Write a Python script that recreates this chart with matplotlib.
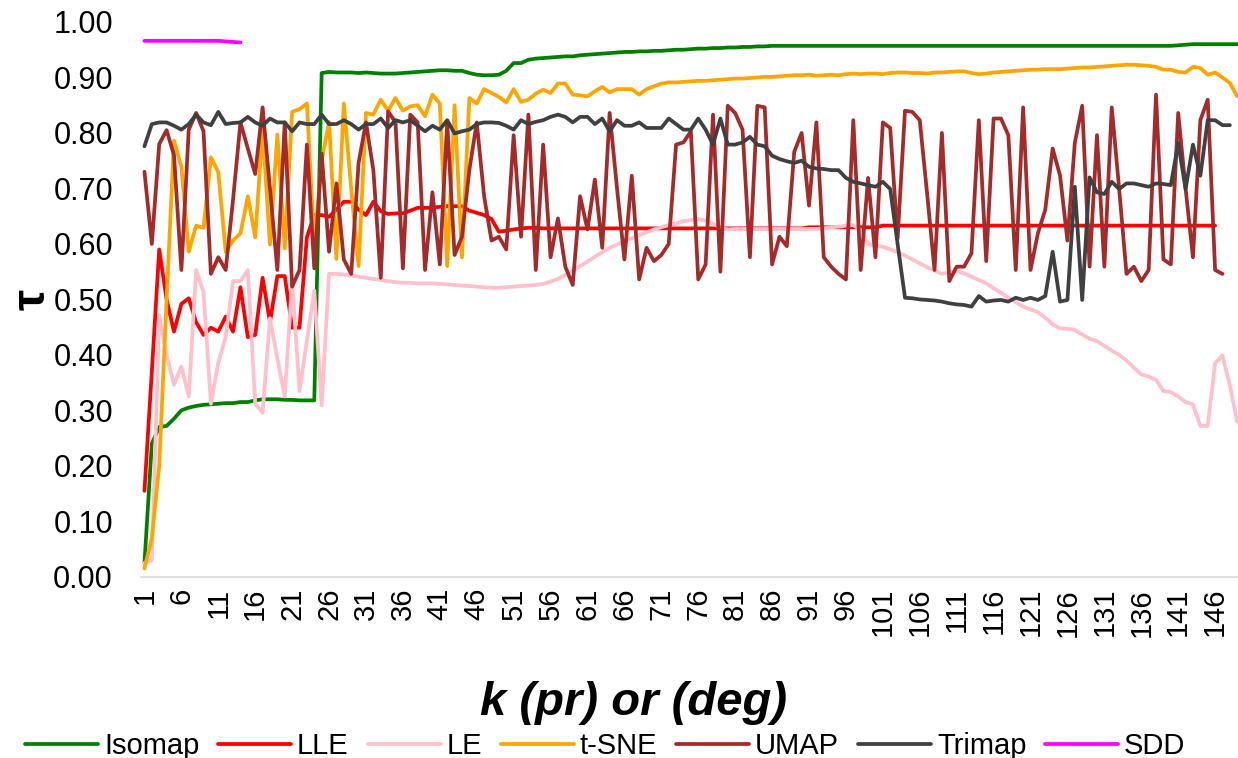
import matplotlib
matplotlib.use('Agg')
import matplotlib.pyplot as plt
import numpy as np

plt.rcParams['font.family'] = ['Liberation Sans', 'DejaVu Sans']

# tau values, one per k (category 1, 2, 3, ...)
isomap = [
    0.025, 0.24, 0.27, 0.272, 0.285, 0.30, 0.305, 0.308, 0.31, 0.311,
    0.312, 0.313, 0.313, 0.315, 0.315, 0.318, 0.32, 0.32, 0.32, 0.319,
    0.319, 0.318, 0.318, 0.318, 0.908, 0.91, 0.909, 0.909, 0.909, 0.908,
    0.909, 0.908, 0.907, 0.907, 0.907, 0.908, 0.909, 0.91, 0.911, 0.912,
    0.913, 0.913, 0.912, 0.912, 0.908, 0.905, 0.904, 0.904, 0.905, 0.912,
    0.926, 0.926, 0.932, 0.934, 0.935, 0.936, 0.937, 0.938, 0.938, 0.94,
    0.941, 0.942, 0.943, 0.944, 0.945, 0.946, 0.946, 0.947, 0.947, 0.948,
    0.948, 0.949, 0.95, 0.95, 0.951, 0.952, 0.952, 0.953, 0.953, 0.954,
    0.954, 0.955, 0.955, 0.956, 0.956, 0.957, 0.957, 0.957, 0.957, 0.957,
    0.957, 0.957, 0.957, 0.957, 0.957, 0.957, 0.957, 0.957, 0.957, 0.957,
    0.957, 0.957, 0.957, 0.957, 0.957, 0.957, 0.957, 0.957, 0.957, 0.957,
    0.957, 0.957, 0.957, 0.957, 0.957, 0.957, 0.957, 0.957, 0.957, 0.957,
    0.957, 0.957, 0.957, 0.957, 0.957, 0.957, 0.957, 0.957, 0.957, 0.957,
    0.957, 0.957, 0.957, 0.957, 0.957, 0.957, 0.957, 0.957, 0.957, 0.957,
    0.958, 0.959, 0.96, 0.96, 0.96, 0.96, 0.96, 0.96, 0.96,
]

lle = [
    0.155, 0.37, 0.59, 0.50, 0.442, 0.492, 0.502, 0.459, 0.436, 0.449,
    0.442, 0.469, 0.442, 0.522, 0.432, 0.436, 0.539, 0.459, 0.542, 0.542,
    0.449, 0.449, 0.612, 0.652, 0.652, 0.649, 0.662, 0.676, 0.676, 0.662,
    0.652, 0.676, 0.659, 0.654, 0.655, 0.655, 0.66, 0.665, 0.665, 0.665,
    0.667, 0.668, 0.668, 0.668, 0.66, 0.656, 0.652, 0.645, 0.622, 0.624,
    0.626, 0.628, 0.629, 0.629, 0.628, 0.628, 0.628, 0.628, 0.628, 0.628,
    0.628, 0.628, 0.628, 0.628, 0.628, 0.628, 0.628, 0.628, 0.628, 0.628,
    0.628, 0.628, 0.628, 0.628, 0.628, 0.628, 0.628, 0.628, 0.628, 0.628,
    0.628, 0.628, 0.628, 0.628, 0.628, 0.628, 0.628, 0.628, 0.628, 0.628,
    0.63, 0.63, 0.63, 0.63, 0.63, 0.63, 0.63, 0.63, 0.63, 0.63,
    0.633, 0.633, 0.633, 0.633, 0.633, 0.633, 0.633, 0.633, 0.633, 0.633,
    0.633, 0.633, 0.633, 0.633, 0.633, 0.633, 0.633, 0.633, 0.633, 0.633,
    0.633, 0.633, 0.633, 0.633, 0.633, 0.633, 0.633, 0.633, 0.633, 0.633,
    0.633, 0.633, 0.633, 0.633, 0.633, 0.633, 0.633, 0.633, 0.633, 0.633,
    0.633, 0.633, 0.633, 0.633, 0.633, 0.633,
]

le = [
    0.025, 0.03, 0.472, 0.40, 0.346, 0.379, 0.325, 0.553, 0.513, 0.312,
    0.386, 0.432, 0.533, 0.533, 0.553, 0.312, 0.296, 0.466, 0.393, 0.325,
    0.533, 0.335, 0.426, 0.516, 0.309, 0.546, 0.546, 0.545, 0.543, 0.541,
    0.539, 0.537, 0.535, 0.533, 0.531, 0.53, 0.53, 0.529, 0.529, 0.529,
    0.528, 0.527, 0.526, 0.525, 0.524, 0.523, 0.522, 0.521, 0.521, 0.522,
    0.523, 0.524, 0.525, 0.526, 0.528, 0.532, 0.537, 0.544, 0.552, 0.56,
    0.568, 0.577, 0.585, 0.593, 0.599, 0.605, 0.61, 0.616, 0.621, 0.626,
    0.63, 0.634, 0.637, 0.641, 0.643, 0.645, 0.642, 0.636, 0.63, 0.626,
    0.627, 0.627, 0.627, 0.627, 0.627, 0.627, 0.627, 0.627, 0.627, 0.627,
    0.627, 0.627, 0.628, 0.63, 0.631, 0.633, 0.634, 0.625, 0.60, 0.597,
    0.595, 0.59, 0.585, 0.579, 0.572, 0.565, 0.558, 0.552, 0.546, 0.549,
    0.551, 0.547, 0.541, 0.535, 0.529, 0.52, 0.512, 0.503, 0.495, 0.487,
    0.482, 0.477, 0.467, 0.455, 0.448, 0.447, 0.445, 0.437, 0.429, 0.425,
    0.416, 0.408, 0.40, 0.39, 0.377, 0.365, 0.361, 0.355, 0.335, 0.333,
    0.325, 0.315, 0.311, 0.272, 0.272, 0.385, 0.399, 0.345, 0.279,
]

tsne = [
    0.015, 0.07, 0.2, 0.5, 0.786, 0.739, 0.586, 0.633, 0.629, 0.756,
    0.729, 0.586, 0.606, 0.619, 0.686, 0.612, 0.806, 0.599, 0.797, 0.592,
    0.838, 0.843, 0.853, 0.6, 0.75, 0.82, 0.573, 0.853, 0.70, 0.56,
    0.836, 0.833, 0.86, 0.84, 0.863, 0.84, 0.848, 0.85, 0.83, 0.869,
    0.853, 0.56, 0.85, 0.576, 0.863, 0.853, 0.879, 0.872, 0.865, 0.855,
    0.879, 0.856, 0.86, 0.871, 0.878, 0.872, 0.889, 0.889, 0.869, 0.868,
    0.866, 0.875, 0.883, 0.873, 0.879, 0.879, 0.879, 0.869, 0.879, 0.884,
    0.889, 0.891, 0.891, 0.892, 0.893, 0.894, 0.894, 0.895, 0.896, 0.897,
    0.898, 0.898, 0.899, 0.9, 0.901, 0.901, 0.902, 0.903, 0.904, 0.904,
    0.905, 0.903, 0.904, 0.905, 0.904, 0.906, 0.907, 0.906, 0.907, 0.907,
    0.906, 0.908, 0.909, 0.909, 0.908, 0.908, 0.907, 0.909, 0.909, 0.91,
    0.911, 0.911, 0.908, 0.906, 0.907, 0.909, 0.91, 0.911, 0.912, 0.913,
    0.914, 0.914, 0.915, 0.915, 0.915, 0.916, 0.917, 0.918, 0.918, 0.919,
    0.92, 0.921, 0.922, 0.923, 0.923, 0.922, 0.921, 0.919, 0.914, 0.914,
    0.91, 0.909, 0.919, 0.917, 0.905, 0.909, 0.9, 0.89, 0.866,
]

umap = [
    0.73, 0.60, 0.78, 0.805, 0.76, 0.553, 0.806, 0.836, 0.803, 0.546,
    0.576, 0.553, 0.68, 0.819, 0.772, 0.726, 0.846, 0.70, 0.553, 0.819,
    0.523, 0.553, 0.779, 0.556, 0.763, 0.586, 0.709, 0.572, 0.546, 0.746,
    0.819, 0.733, 0.539, 0.839, 0.819, 0.556, 0.833, 0.819, 0.553, 0.693,
    0.563, 0.819, 0.58, 0.613, 0.733, 0.819, 0.686, 0.606, 0.613, 0.59,
    0.796, 0.613, 0.833, 0.553, 0.779, 0.576, 0.646, 0.559, 0.526, 0.686,
    0.626, 0.716, 0.593, 0.836, 0.70, 0.572, 0.723, 0.536, 0.593, 0.569,
    0.58, 0.60, 0.779, 0.783, 0.803, 0.536, 0.563, 0.833, 0.55, 0.849,
    0.836, 0.806, 0.576, 0.849, 0.846, 0.563, 0.613, 0.596, 0.766, 0.80,
    0.669, 0.819, 0.576, 0.559, 0.546, 0.536, 0.823, 0.553, 0.719, 0.576,
    0.819, 0.809, 0.61, 0.84, 0.838, 0.823, 0.69, 0.553, 0.80, 0.533,
    0.559, 0.559, 0.583, 0.823, 0.569, 0.826, 0.826, 0.796, 0.553, 0.846,
    0.553, 0.619, 0.662, 0.772, 0.723, 0.606, 0.782, 0.849, 0.559, 0.796,
    0.559, 0.846, 0.70, 0.546, 0.559, 0.533, 0.553, 0.869, 0.572, 0.563,
    0.836, 0.70, 0.576, 0.823, 0.86, 0.553, 0.546,
]

trimap = [
    0.776, 0.816, 0.819, 0.819, 0.813, 0.806, 0.816, 0.833, 0.819, 0.814,
    0.838, 0.816, 0.818, 0.819, 0.829, 0.819, 0.813, 0.826, 0.819, 0.819,
    0.803, 0.819, 0.816, 0.816, 0.833, 0.816, 0.816, 0.823, 0.816, 0.806,
    0.816, 0.816, 0.826, 0.809, 0.823, 0.819, 0.823, 0.813, 0.803, 0.813,
    0.806, 0.823, 0.799, 0.803, 0.806, 0.816, 0.819, 0.819, 0.818, 0.813,
    0.806, 0.823, 0.816, 0.82, 0.823, 0.829, 0.833, 0.829, 0.819, 0.829,
    0.829, 0.816, 0.826, 0.803, 0.823, 0.813, 0.813, 0.819, 0.809, 0.809,
    0.809, 0.826, 0.816, 0.806, 0.806, 0.826, 0.806, 0.779, 0.826, 0.779,
    0.779, 0.783, 0.793, 0.779, 0.776, 0.759, 0.753, 0.749, 0.746, 0.75,
    0.739, 0.736, 0.735, 0.733, 0.733, 0.719, 0.712, 0.709, 0.706, 0.703,
    0.712, 0.699, 0.60, 0.503, 0.502, 0.50, 0.499, 0.498, 0.496, 0.493,
    0.491, 0.49, 0.487, 0.506, 0.496, 0.498, 0.499, 0.496, 0.503, 0.499,
    0.503, 0.499, 0.506, 0.586, 0.496, 0.499, 0.703, 0.499, 0.72, 0.693,
    0.69, 0.712, 0.699, 0.709, 0.709, 0.706, 0.703, 0.709, 0.708, 0.706,
    0.782, 0.699, 0.779, 0.723, 0.823, 0.823, 0.814, 0.814,
]

sdd = [
    0.966, 0.966, 0.966, 0.966, 0.966, 0.966, 0.966, 0.966, 0.966, 0.966,
    0.966, 0.965, 0.964, 0.963,
]

series = [
    ('Isomap', isomap, '#008000'),
    ('LLE', lle, '#ff0000'),
    ('LE', le, '#ffc0cb'),
    ('t-SNE', tsne, '#ffa500'),
    ('UMAP', umap, '#a52a2a'),
    ('Trimap', trimap, '#404040'),
    ('SDD', sdd, '#ff00ff'),
]
n_cat = 149

fig = plt.figure(figsize=(12.38, 7.58), dpi=100)
ax = fig.add_axes([0.1137, 0.239, 0.8863, 0.732])

for name, vals, col in series:
    k = np.arange(1, len(vals) + 1)
    ax.plot(k, vals, color=col, lw=2.7, label=name,
            solid_joinstyle='round', solid_capstyle='round')

ax.set_xlim(0.5, n_cat + 0.1)
ax.set_ylim(0, 1)
ax.set_yticks(np.arange(0, 1.01, 0.1))
ax.set_yticklabels([f'{v:.2f}' for v in np.arange(0, 1.01, 0.1)])
ax.set_xticks(np.arange(1, n_cat + 1, 5))
ax.set_xticklabels([str(t) for t in range(1, n_cat + 1, 5)], rotation=90)
ax.tick_params(axis='y', length=0, pad=20, labelsize=22, colors='#000000')
ax.tick_params(axis='x', length=0, pad=8, labelsize=21, colors='#000000')
for s in ['top', 'right', 'left']:
    ax.spines[s].set_visible(False)
ax.spines['bottom'].set_color('#d9d9d9')
ax.spines['bottom'].set_linewidth(1.2)

fig.text(0.026, 0.605, 'τ', rotation=90, fontsize=34, fontweight='bold',
         ha='center', va='center')
fig.text(0.512, 0.072, 'k (pr) or (deg)', fontsize=34, fontweight='bold',
         fontstyle='italic', ha='center', va='center')

fig.legend(loc='center', bbox_to_anchor=(0.489, 0.016), ncol=7, frameon=False,
           fontsize=21, handlelength=2.5, handletextpad=0.2, columnspacing=0.65,
           borderpad=0.0)

fig.savefig('out.png', dpi=100)
